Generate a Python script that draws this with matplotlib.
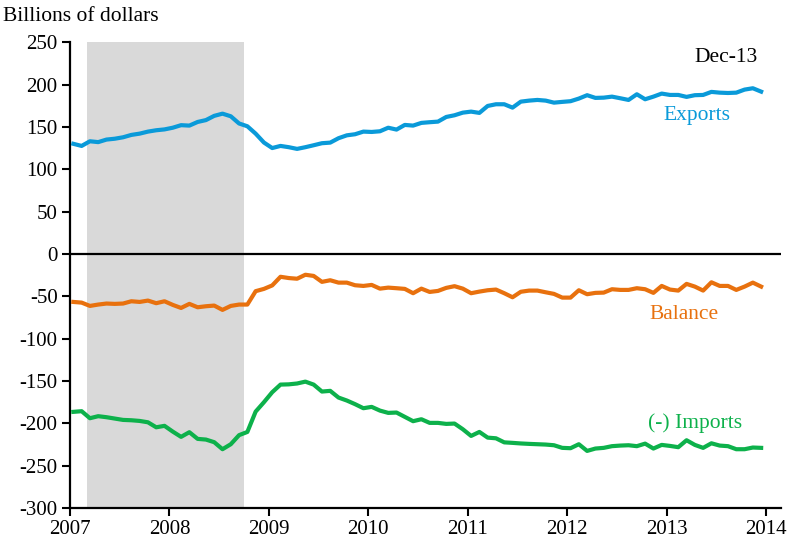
# -*- coding: utf-8 -*-
import numpy as np
import matplotlib
matplotlib.use("Agg")
import matplotlib.pyplot as plt

# Datos mensuales, ene-2007 a dic-2013 (miles de millones de dolares)
exports = [130, 127.5, 133, 132, 135, 136, 137.7, 140.5, 142, 144.4,
           146, 147, 149, 152, 151.5, 155.8, 158, 163, 165.6, 162.5,
           154, 150.7, 142, 131.5, 125, 127.5, 126, 124, 126, 128.3,
           130.7, 131.4, 136.6, 140, 141.3, 144.4, 144, 144.8, 149, 146.8,
           152.3, 151.5, 154.7, 155.5, 156.2, 161.7, 163.7, 166.8, 168, 166.5,
           174.7, 176.7, 176.7, 172.7, 179.8, 181, 181.8, 181, 178.6, 179.5,
           180.3, 183.4, 187.4, 184.2, 184.5, 185.7, 183.8, 181.8, 188.5, 182.6,
           185.7, 189.3, 187.7, 187.7, 185.4, 187.4, 187.7, 191.3, 190.4, 190,
           190.4, 194, 195.6, 191.6]

balance = [-56.7, -57.5, -61.4, -59.8, -58.6, -59, -58.6, -55.9, -56.7, -55.1,
           -58.2, -55.9, -60.2, -63.8, -59, -63, -61.8, -61, -66.1, -61.4,
           -59.8, -59.8, -44, -41.3, -37.2, -27, -28.5, -29.3, -24.6, -26,
           -33, -31.1, -33.9, -33.9, -37, -37.8, -36.6, -41, -39.8, -40.5,
           -41.3, -46.4, -41, -44.9, -43.7, -40.1, -38.1, -41, -46.4, -44.5,
           -42.9, -42.1, -46.4, -51.2, -44.7, -43.3, -43.3, -45.3, -47.2, -51.6,
           -51.6, -42.9, -47.6, -46, -45.7, -41.7, -42.5, -42.5, -40.5, -41.7,
           -46, -37.8, -42.1, -43.3, -35.4, -38.6, -43.3, -33.5, -37.8, -37.8,
           -42.5, -38.6, -33.9, -38.6]

imports = [-186.5, -185.7, -194, -191.6, -192.8, -194.4, -196, -196.4, -197.2, -198.8,
           -204.7, -203, -209.8, -216, -210.5, -218.4, -219.2, -222.3, -230.6, -224.7,
           -214, -210.2, -186.2, -175.1, -163.3, -154.3, -154, -153, -150.8, -154.3,
           -162.5, -161.7, -169.6, -173.1, -177.4, -182.2, -180.6, -185, -187.7, -187.3,
           -192.4, -197.5, -195.2, -199.5, -199.5, -200.7, -200.3, -207, -214.9, -210.2,
           -216.9, -217.7, -222.5, -223.1, -223.8, -224.3, -224.7, -225.1, -225.9, -229,
           -229.4, -224.7, -232.6, -229.8, -229, -227, -226.3, -225.9, -227, -224,
           -229.8, -225.5, -226.7, -228.2, -220, -225.5, -229, -223.6, -226.3, -227,
           -230.6, -230.6, -228.6, -229]

years = [2007, 2008, 2009, 2010, 2011, 2012, 2013, 2014]
yticks = list(range(-300, 251, 50))
recession = (2007.17, 2008.745)

fechas = 2007 + (np.arange(len(exports)) + 0.4) / 12

c_exp = "#0a9ad9"
c_bal = "#e8710e"
c_imp = "#0db14b"

plt.rcParams["font.family"] = ["Liberation Serif", "DejaVu Serif"]

fig = plt.figure(figsize=(7.93, 5.47), dpi=100)
ax = fig.add_axes([0.0883, 0.0713, 0.8966, 0.8516])

# Sombra de recesion
ax.axvspan(recession[0], recession[1], color="#d9d9d9", lw=0, zorder=0)
ax.axhline(0, color="black", lw=1.6, zorder=1)

ax.plot(fechas, exports, color=c_exp, lw=3, zorder=3)
ax.plot(fechas, balance, color=c_bal, lw=3, zorder=3)
ax.plot(fechas, imports, color=c_imp, lw=3, zorder=3)

ax.set_xlim(2007, 2014.15)
ax.set_ylim(-300, 250)
ax.set_xticks(years)
ax.set_xticklabels([str(y) for y in years])
ax.set_yticks(yticks)
ax.set_yticklabels([str(v) for v in yticks])

for s in ["top", "right"]:
    ax.spines[s].set_visible(False)
for s in ["left", "bottom"]:
    ax.spines[s].set_linewidth(1.6)
ax.tick_params(axis="both", direction="out", length=6, width=1.5, labelsize=15, pad=3)

# Textos
fig.text(0.004, 0.97, "Billions of dollars", fontsize=15.5, va="center", ha="left")
ax.text(2013.92, 232, "Dec-13", fontsize=15.5, ha="right", va="center")
ax.text(2013.3, 164, "Exports", fontsize=15.5, color=c_exp, ha="center", va="center")
ax.text(2013.17, -72, "Balance", fontsize=15.5, color=c_bal, ha="center", va="center")
ax.text(2013.29, -199.5, "(-) Imports", fontsize=15.5, color=c_imp, ha="center", va="center")

fig.savefig("out.png", dpi=100)
